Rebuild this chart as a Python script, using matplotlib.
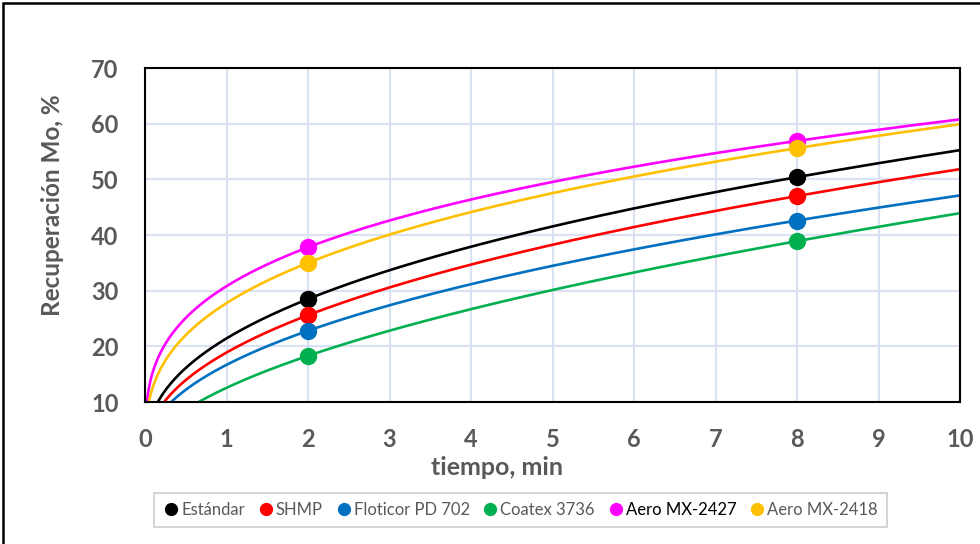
import matplotlib.pyplot as plt
import numpy as np
from matplotlib.lines import Line2D
from matplotlib.patches import Rectangle

# tiempos de flotación medidos (min)
t_obs = [2, 8]

nombres = ['Estándar', 'SHMP', 'Floticor PD 702', 'Coatex 3736', 'Aero MX-2427', 'Aero MX-2418']
rec_estandar = [28.5, 50.4]
rec_shmp = [25.6, 47.0]
rec_floticor = [22.8, 42.6]
rec_coatex = [18.3, 38.9]
rec_mx2427 = [37.8, 56.9]
rec_mx2418 = [35.0, 55.6]
colores = ['#000000', '#FF0000', '#0070C0', '#00B050', '#FF00FF', '#FFC000']

series = [rec_estandar, rec_shmp, rec_floticor, rec_coatex, rec_mx2427, rec_mx2418]

plt.rcParams['font.family'] = ['Lato', 'DejaVu Sans']

fig = plt.figure(figsize=(9.8, 5.44), dpi=100)
ax = fig.add_axes([0.148, 0.261, 0.8316, 0.614])

t = np.linspace(0.001, 10, 600)
for y, c in zip(series, colores):
    # linea de tendencia potencial y = a*t^b
    b, lna = np.polyfit(np.log(t_obs), np.log(y), 1)
    ax.plot(t, np.exp(lna) * t ** b, color=c, lw=1.9, zorder=2)
    ax.plot(t_obs, y, 'o', color=c, ms=11.5, zorder=3)

ax.set_xlim(0, 10)
ax.set_ylim(10, 70)
ax.set_xticks(range(0, 11))
ax.set_yticks(range(10, 71, 10))
ax.grid(True, color='#D9E1F2', lw=1.5)
ax.set_axisbelow(True)
for s in ax.spines.values():
    s.set_color('black')
    s.set_linewidth(1.5)
ax.tick_params(length=0, labelsize=17, labelcolor='#595959')
ax.tick_params(axis='y', pad=19)
ax.tick_params(axis='x', pad=19)
for lbl in ax.get_xticklabels() + ax.get_yticklabels():
    lbl.set_fontweight('bold')

ax.set_xlabel('tiempo, min', fontsize=18, fontweight='bold', color='#595959')
ax.set_ylabel('Recuperación Mo, %', fontsize=17.5, fontweight='bold', color='#595959')
ax.xaxis.set_label_coords(0.432, -0.195)
ax.yaxis.set_label_coords(-0.114, 0.59)
ax.xaxis.label.set_va('center')
ax.yaxis.label.set_va('center')

handles = [Line2D([], [], ls='', marker='o', color=c, ms=8.5) for c in colores]
leg = fig.legend(handles, nombres, loc='center', bbox_to_anchor=(0.531, 0.062), ncol=6,
                 fontsize=12, frameon=True, fancybox=False, handletextpad=0.1,
                 columnspacing=0.75, handlelength=1.0, borderpad=0.55)
leg.get_frame().set_edgecolor('#BFBFBF')
leg.get_frame().set_linewidth(1.2)
for txt in leg.get_texts():
    txt.set_color('#595959')
leg.get_texts()[4].set_color('black')

# marco exterior del gráfico
fig.patches.append(Rectangle((3 / 980, -0.1), 1.1, 1 - 3 / 544 + 0.1, transform=fig.transFigure,
                             fill=False, edgecolor='black', lw=1.8))

fig.savefig('out.png', dpi=100)
